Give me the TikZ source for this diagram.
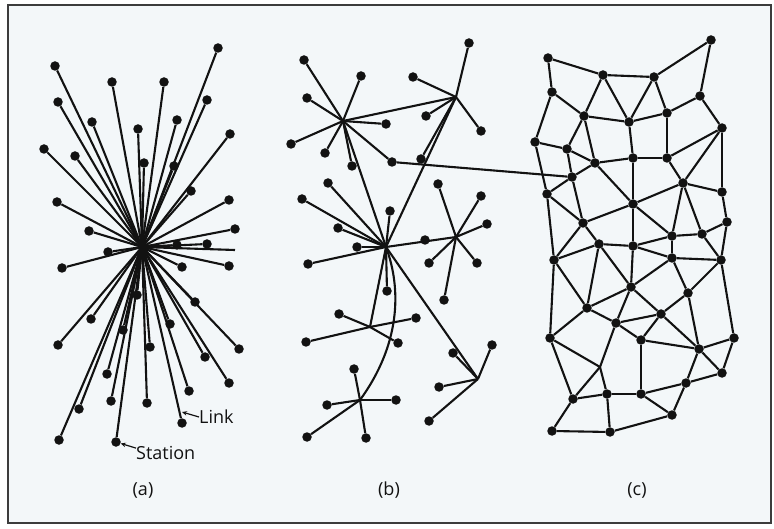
\documentclass[tikz,border=0pt]{standalone}
\usepackage{fontspec}
\setmainfont{Open Sans}
\usetikzlibrary{arrows.meta}
\definecolor{bgc}{RGB}{243,247,249}
\definecolor{framec}{RGB}{60,60,60}
\definecolor{inkc}{RGB}{18,18,18}
\begin{document}
\begin{tikzpicture}[x=1pt,y=-1pt,
  dot/.style={circle,fill=inkc,inner sep=0pt,minimum size=9.5pt},
  ln/.style={line width=2.1pt,draw=inkc},
  lbl/.style={font=\fontsize{18}{20}\selectfont,inner sep=0pt,text=inkc},
  pointer/.style={line width=1.2pt,draw=inkc,-{Stealth[length=5pt,width=4.5pt]}}]
\useasboundingbox (0,0) rectangle (774,529);
\fill[white] (0,0) rectangle (774,529);
\fill[bgc] (8,5) rectangle (771,523);
\draw[framec,line width=1.8pt] (8,5) rectangle (771,523);

% ---------------- (a) ----------------
\coordinate (ac) at (142,247);
\coordinate (ah) at (235,250);
\foreach \n/\x/\y in {a1/55/66,a2/218/48,a3/112/82,a4/164/82,a5/58/102,a6/207/100,a7/92/122,a8/177/120,
  a9/138/129,a10/230/134,a11/44/149,a12/75/156,a13/144/163,a14/174/166,a15/191/191,a16/57/202,
  a17/229/200,a18/89/231,a19/235/229,a20/108/252,a21/177/245,a22/207/244,a23/62/268,a24/182/267,
  a25/229/266,a26/137/295,a27/195/302,a28/91/319,a29/123/330,a30/170/324,a31/58/345,a32/150/347,
  a33/239/349,a34/205/357,a35/107/374,a36/229/383,a37/189/391,a38/111/401,a39/147/403,a40/79/409,
  a41/182/423,a42/59/440,a43/116/442}
  \node[dot] (\n) at (\x,\y) {};
\foreach \n in {a1,a2,a3,a4,a5,a6,a7,a8,a9,a10,a11,a12,a13,a14,a15,a16,a17,a18,a19,a20,a21,a22,
  a23,a24,a25,a26,a27,a28,a29,a30,a31,a32,a33,a34,a35,a36,a37,a38,a39,a40,a41,a42,a43}
  \draw[ln] (ac) -- (\n);
\draw[ln] (ac) -- (ah);

\node[lbl,anchor=west] (link) at (199,417) {Link};
\coordinate (linkpt) at (182,412);
\draw[pointer] (link.west) -- (linkpt);
\node[lbl,anchor=west] (station) at (136,453) {Station};
\draw[pointer] (station.north west) ++(0,2) coordinate (st0) (st0) -- (a43);

% ---------------- (b) ----------------
\coordinate (H1) at (343,121);
\coordinate (H2) at (456,97);
\coordinate (B) at (386,247);
\coordinate (H3) at (456,237);
\coordinate (H4) at (370,327);
\coordinate (H5) at (360,400);
\coordinate (H6) at (478,379);
\foreach \n/\x/\y in {b1/304/60,b2/361/76,b3/307/98,b4/386/124,b5/291/144,b6/325/153,b7/352/166,b8/392/162,
  b9/469/43,b10/413/77,b11/426/116,b12/481/131,b13/421/159,
  b14/328/183,b15/302/199,b16/390/211,b17/338/228,b18/357/247,b19/308/264,b20/387/291,b21/425/240,
  b22/438/184,b23/481/196,b24/487/224,b25/429/263,b26/477/263,b27/444/300,
  b28/339/314,b29/416/318,b30/306/342,b31/398/343,
  b32/354/369,b33/327/405,b34/396/400,b35/307/437,b36/366/438,
  b37/453/353,b38/492/345,b39/439/387,b40/429/421}
  \node[dot] (\n) at (\x,\y) {};
\foreach \n in {b1,b2,b3,b4,b5,b6,b7,b8} \draw[ln] (H1) -- (\n);
\foreach \n in {b9,b10,b11,b12,b13} \draw[ln] (H2) -- (\n);
\foreach \n in {b14,b15,b16,b17,b18,b19,b20} \draw[ln] (B) -- (\n);
\foreach \n in {b22,b23,b24,b25,b26,b27} \draw[ln] (H3) -- (\n);
\foreach \n in {b28,b29,b30,b31} \draw[ln] (H4) -- (\n);
\foreach \n in {b32,b33,b34,b35,b36} \draw[ln] (H5) -- (\n);
\foreach \n in {b37,b38,b39,b40} \draw[ln] (H6) -- (\n);
\draw[ln] (H1) -- (H2);
\draw[ln] (H1) -- (B);
\draw[ln] (H2) -- (B);
\draw[ln] (B) -- (H3);
\draw[ln] (B) -- (H4);
\draw[ln] (B) -- (H6);
\draw[ln] (B) .. controls (402,290) and (400,345) .. (H5);

% ---------------- (c) ----------------
\coordinate (cj) at (600,367);
\foreach \n/\x/\y in {c1/711/40,c2/548/58,c3/603/75,c4/654/77,c5/552/92,c6/700/96,c7/584/116,c8/629/122,
  c9/667/113,c10/722/128,c11/535/142,c12/567/149,c13/595/163,c14/633/158,c15/667/158,c16/572/177,
  c17/683/183,c18/547/194,c19/722/192,c20/633/204,c21/727/222,c22/583/223,c23/672/236,c24/702/234,
  c25/599/244,c26/633/246,c27/554/260,c28/672/258,c29/721/260,c30/631/287,c31/688/293,c32/587/308,
  c33/616/323,c34/661/314,c35/550/338,c36/641/340,c37/734/338,c38/699/349,c39/722/373,c40/686/383,
  c41/573/399,c42/607/394,c43/641/394,c44/672/415,c45/552/431,c46/610/432}
  \node[dot] (\n) at (\x,\y) {};
\foreach \p/\q in {c2/c3,c3/c4,c4/c1,c1/c6,c2/c5,c5/c7,c3/c7,c3/c8,c4/c8,c4/c9,c7/c8,c8/c9,c9/c6,c6/c10,
  c5/c11,c7/c12,c7/c13,c8/c14,c9/c15,c10/c15,c10/c17,c10/c19,c11/c12,c12/c13,c13/c14,c14/c15,c11/c18,
  c12/c16,c13/c16,c16/c18,c16/c22,c18/c22,c13/c20,c14/c20,c20/c22,c20/c17,c20/c23,c15/c17,c17/c19,
  c17/c23,c17/c24,c19/c21,c24/c21,c23/c24,c18/c27,c22/c27,c22/c25,c27/c25,c25/c26,c20/c26,c26/c23,
  c26/c28,c25/c32,c25/c30,c26/c30,c23/c28,c24/c29,c21/c29,c28/c29,c28/c30,c28/c31,c29/c31,c29/c37,
  c27/c32,c27/c35,c32/c30,c32/c33,c30/c33,c30/c34,c31/c34,c31/c38,c32/c35,c33/c34,c33/c36,c34/c36,
  c34/c38,c36/c38,c38/c37,c38/c39,c37/c39,c38/c40,c39/c40,c40/c43,c40/c44,c36/c43,c33/cj,c35/cj,
  cj/c41,cj/c42,c35/c41,c41/c42,c42/c43,c43/c44,c41/c45,c42/c46,c45/c46,c46/c44}
  \draw[ln] (\p) -- (\q);

% link from (b) to (c)
\draw[ln] (b8) -- (c16);

% ---------------- captions ----------------
\node[lbl] (capa) at (143,490) {(a)};
\node[lbl] (capb) at (389,490) {(b)};
\node[lbl] (capc) at (637,490) {(c)};
\end{tikzpicture}
\end{document}
